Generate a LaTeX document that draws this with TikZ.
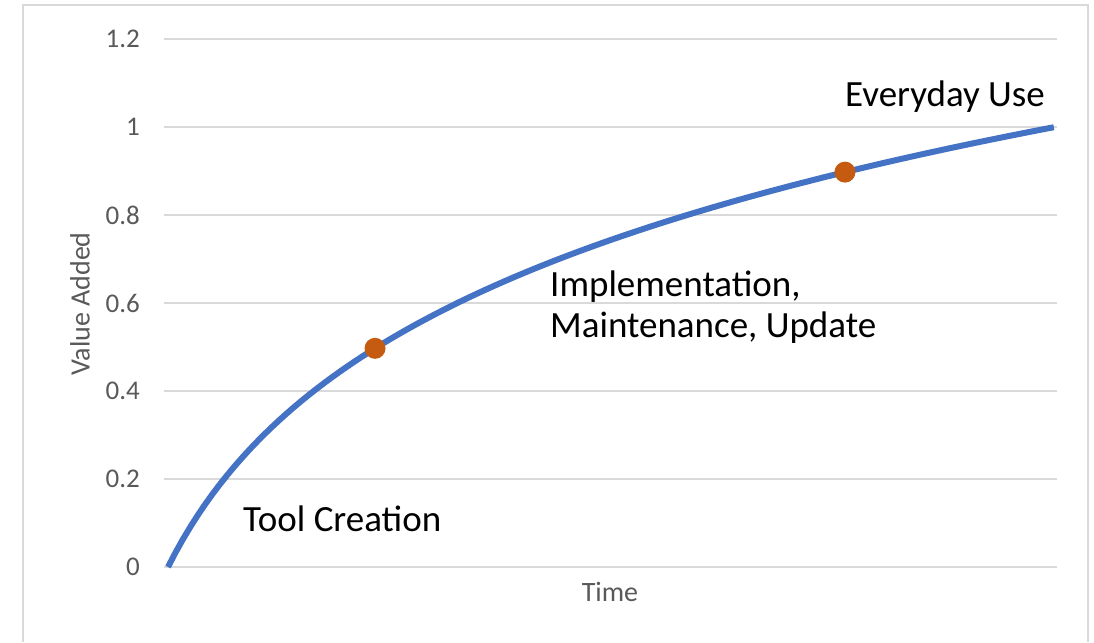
\documentclass[tikz,border=0pt]{standalone}
\usepackage{fontspec}
\setmainfont{Carlito}
\usepackage{xcolor}
\usetikzlibrary{calc, positioning}

\definecolor{gridgray}{HTML}{D9D9D9}
\definecolor{axisgray}{HTML}{595959}
\definecolor{curveblue}{HTML}{4472C4}
\definecolor{dotorange}{HTML}{C55A11}

\tikzset{
  gridline/.style = {draw=gridgray, line width=2pt},
  ticklabel/.style = {anchor=east, inner sep=0pt, text=axisgray, font=\fontsize{27}{32}\selectfont},
  axislabel/.style = {inner sep=0pt, text=axisgray, font=\fontsize{28}{34}\selectfont},
  phaselabel/.style = {anchor=base west, inner sep=0pt, font=\fontsize{37}{41}\selectfont},
  phasedot/.style = {fill=dotorange},
}

\begin{document}
\begin{tikzpicture}[x=1pt, y=1pt]

  \useasboundingbox (0,0) rectangle (1094,642);

  % Draw the chart frame
  \draw[draw=gridgray, line width=2.5pt] (23,0) -- (23,637) -- (1088,637) -- (1088,0);

  % Gridlines and tick labels
  \foreach \k/\lab in {0/0, 1/0.2, 2/0.4, 3/0.6, 4/0.8, 5/1, 6/1.2} {
    \draw[gridline] (164,{75+88*\k}) -- (1057,{75+88*\k});
    \node[ticklabel] (tick\k) at (140,{75+88*\k}) {\lab};
  }

  % Define points for the phases
  \coordinate (S) at ({168+887*0.2334},{75+440*ln(1+9.5*0.2334)/ln(10.5)});
  \coordinate (E) at ({168+887*0.7632},{75+440*ln(1+9.5*0.7632)/ln(10.5)});

  % Draw the curve
  \draw[curveblue, line width=6pt]
    plot[domain=0:1, samples=120] ({168+887*\x},{75+440*ln(1+9.5*\x)/ln(10.5)});

  % Dots
  \fill[phasedot] (S) circle (10.5pt);
  \fill[phasedot] (E) circle (10.5pt);

  % Axis titles
  \node[axislabel] (time) at (610,50) {Time};
  \node[axislabel, rotate=90] (value) at (80,338) {Value Added};

  % Label the phases
  \node[phaselabel] (create) at (243,110) {Tool Creation};
  \node[phaselabel, align=left] (impl) at (550,304) {Implementation,\\Maintenance, Update};
  \node[phaselabel] (use) at (845,535) {Everyday Use};

\end{tikzpicture}
\end{document}
